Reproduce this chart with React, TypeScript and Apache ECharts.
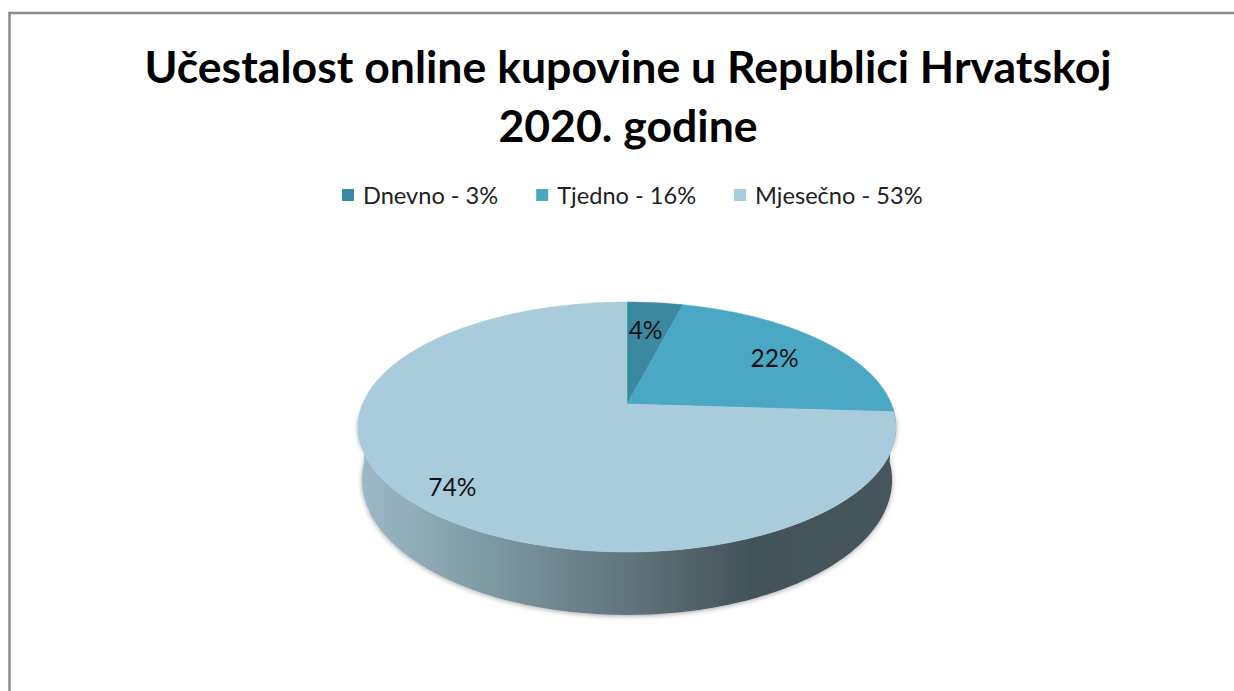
import React, { useEffect, useRef } from "react";
import * as echarts from "echarts";

const titleText = "Učestalost online kupovine u Republici Hrvatskoj\n2020. godine";
const seriesNames = ["Dnevno - 3%", "Tjedno - 16%", "Mjesečno - 53%"];
const sliceValues = [4, 22, 74];
const sliceColors = ["#3A89A1", "#4AA8C4", "#A8CCDB"];

const CX = 627;
const TILT = 0.184;
const A = 46.4;
const B = 404;
const D = 264.5;
const total = sliceValues.reduce((s, v) => s + v, 0);

function project(theta: number, r = 1): [number, number] {
  const u = Math.sin(theta) * r;
  const v = -Math.cos(theta) * r;
  const den = 1 - TILT * v;
  return [CX + (D * u) / den, (A * v + B) / den];
}

function arcPoints(from: number, to: number): number[][] {
  const n = Math.max(2, Math.ceil(Math.abs(to - from) / 0.02));
  const pts: number[][] = [];
  for (let i = 0; i <= n; i++) pts.push(project(from + ((to - from) * i) / n));
  return pts;
}

const labelRadius = [0.7, 0.74, 0.83];
const labelShift = [
  [-2, 0],
  [1, 2],
  [4, 6],
];

function makeRender(index: number) {
  return (_params: any, api: any) => {
    const value = api.value(0);
    const before = sliceValues.slice(0, index).reduce((s, v) => s + v, 0);
    const start = (before / total) * Math.PI * 2;
    const end = ((before + value) / total) * Math.PI * 2;
    const children: any[] = [];
    if (index === sliceValues.length - 1) {
      const front = arcPoints(1.62, Math.PI * 2 - 1.62);
      const lower = front
        .map(([x, y]) => [CX + (x - CX) * 0.985, y + 53 + ((y - 427) / 125) * 10])
        .reverse();
      children.push({
        type: "polygon",
        shape: { points: front.concat(lower) },
        style: {
          fill: new echarts.graphic.LinearGradient(0, 0, 1, 0, [
            { offset: 0, color: "#9CBAC6" },
            { offset: 0.25, color: "#7C98A2" },
            { offset: 0.5, color: "#62757C" },
            { offset: 0.73, color: "#435259" },
            { offset: 1, color: "#46565D" },
          ]),
          shadowBlur: 5,
          shadowColor: "rgba(0,0,0,0.35)",
          shadowOffsetY: 1,
        },
      });
    }
    const pts = [[CX, B] as number[]].concat(arcPoints(start, end));
    children.push({
      type: "polygon",
      shape: { points: pts },
      style: { fill: api.visual("color"), stroke: api.visual("color"), lineWidth: 0.5 },
    });
    const mid = (start + end) / 2;
    const [lx, ly] = project(mid, labelRadius[index]);
    children.push({
      type: "text",
      z2: 10,
      style: {
        x: lx + labelShift[index][0],
        y: ly + labelShift[index][1],
        text: value + "%",
        fill: "#111",
        font: "24.5px Lato, sans-serif",
        align: "center",
        verticalAlign: "middle",
      },
    });
    return { type: "group", children };
  };
}

export default function App() {
  const ref = useRef<HTMLDivElement>(null);
  useEffect(() => {
    document.body.style.margin = "0";
    const chart = echarts.init(ref.current!, undefined, { renderer: "svg" });
    chart.setOption({
      animation: false,
      backgroundColor: "#ffffff",
      title: {
        text: titleText,
        left: 623,
        top: 31,
        textAlign: "center",
        textStyle: {
          fontFamily: "Lato, sans-serif",
          fontWeight: "bold",
          fontSize: 44.6,
          lineHeight: 59,
          color: "#000",
        },
      },
      legend: {
        data: seriesNames,
        left: 337,
        top: 178,
        icon: "rect",
        itemWidth: 12,
        itemHeight: 12,
        itemGap: 38,
        selectedMode: false,
        textStyle: { fontFamily: "Lato, sans-serif", fontSize: 23.6, color: "#222", padding: [0, 0, 0, 4] },
      },
      graphic: [
        {
          type: "rect",
          z: -1,
          shape: { x: 9.5, y: 13, width: 1240, height: 690 },
          style: { fill: "#fff", stroke: "#8C8C8C", lineWidth: 2.5 },
        },
      ],
      series: sliceValues.map((v, i) => ({
        type: "custom",
        name: seriesNames[i],
        coordinateSystem: "none",
        itemStyle: { color: sliceColors[i] },
        data: [[v]],
        renderItem: makeRender(i),
      })),
    });
    return () => chart.dispose();
  }, []);
  return <div ref={ref} style={{ position: "absolute", left: 0, top: 0, width: 1234, height: 691 }} />;
}
